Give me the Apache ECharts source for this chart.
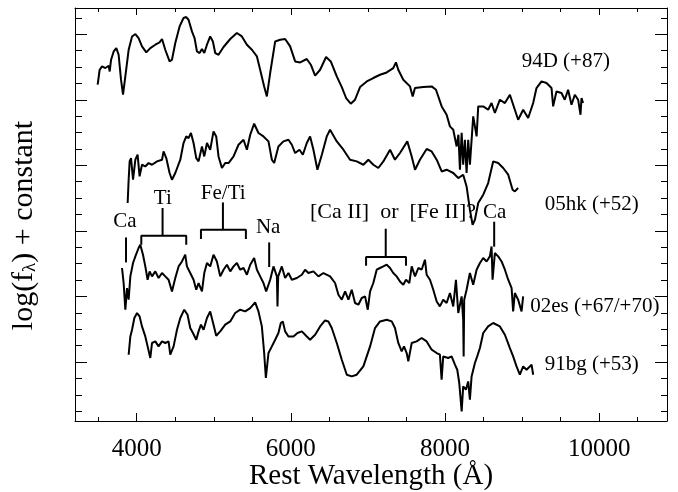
<!DOCTYPE html>
<html><head><meta charset="utf-8">
<script src="https://cdn.jsdelivr.net/npm/echarts@6/dist/echarts.min.js"></script>
<style>html,body{margin:0;padding:0;background:#fff}#c{width:678px;height:492px}</style>
</head><body><div id="c"></div>
<script>
// ---- data: [rest wavelength (Å), log(f) + constant] ----
const sn94D = [[3494,5.230],[3520,5.458],[3551,5.509],[3594,5.484],[3637,5.519],[3650,5.432],[3668,5.611],[3702,5.737],[3736,5.789],[3766,5.687],[3797,5.306],[3823,5.077],[3853,5.356],[3896,5.763],[3940,5.966],[3983,6.003],[4025,5.942],[4069,5.814],[4125,5.722],[4177,5.789],[4242,5.840],[4297,5.875],[4329,5.927],[4371,5.763],[4427,5.585],[4458,5.611],[4501,5.866],[4557,6.119],[4608,6.247],[4643,6.262],[4673,6.221],[4717,6.043],[4751,5.942],[4782,5.737],[4816,5.713],[4847,5.774],[4877,5.713],[4912,5.840],[4954,5.966],[4989,5.890],[5019,5.713],[5062,5.687],[5127,5.805],[5214,5.927],[5300,6.018],[5365,5.966],[5430,5.840],[5495,5.763],[5560,5.661],[5602,5.458],[5654,5.204],[5689,5.051],[5732,5.408],[5797,5.890],[5861,5.916],[5926,5.927],[5991,5.814],[6056,5.585],[6121,5.570],[6207,5.622],[6259,5.535],[6315,5.367],[6380,5.458],[6457,5.652],[6518,5.585],[6596,5.356],[6661,5.194],[6717,5.027],[6777,4.940],[6833,5.001],[6898,5.194],[6985,5.280],[7070,5.332],[7157,5.382],[7244,5.417],[7329,5.484],[7364,5.570],[7394,5.458],[7459,5.306],[7546,5.204],[7581,5.051],[7610,5.179],[7718,5.194],[7827,5.204],[7883,5.153],[7957,4.899],[8021,4.772],[8064,4.594],[8107,4.543],[8151,4.288],[8174,4.467],[8194,3.933],[8216,4.497],[8236,4.009],[8258,4.391],[8280,3.883],[8301,4.391],[8323,4.009],[8366,4.746],[8410,4.441],[8431,4.899],[8496,4.899],[8560,4.848],[8604,4.950],[8647,4.798],[8712,5.001],[8777,4.950],[8842,5.077],[8906,4.848],[8949,4.696],[9014,4.848],[9079,4.722],[9144,4.950],[9187,5.179],[9252,5.280],[9317,5.255],[9382,5.179],[9403,4.899],[9446,5.127],[9511,5.103],[9554,5.001],[9597,5.153],[9641,4.924],[9684,5.077],[9727,5.001],[9758,4.772],[9771,5.027],[9791,4.950]];

const sn05hk = [[3883,3.425],[3896,3.780],[3909,4.060],[3927,4.111],[3953,3.780],[3983,4.086],[4012,4.162],[4038,3.831],[4069,4.009],[4112,3.983],[4155,4.035],[4199,4.009],[4264,4.060],[4329,4.086],[4349,4.212],[4384,4.111],[4427,3.883],[4458,3.780],[4501,3.883],[4566,4.086],[4608,4.340],[4643,4.441],[4673,4.416],[4704,4.493],[4738,4.340],[4773,4.111],[4803,4.060],[4847,4.288],[4877,4.136],[4912,4.340],[4954,4.238],[4997,4.517],[5032,4.441],[5062,4.136],[5106,3.959],[5149,4.035],[5192,4.035],[5257,4.136],[5321,4.314],[5386,4.391],[5430,4.238],[5473,4.467],[5524,4.635],[5580,4.493],[5645,4.441],[5710,4.365],[5754,4.086],[5784,4.035],[5839,4.288],[5904,4.365],[5969,4.391],[6013,4.314],[6056,4.188],[6112,4.238],[6156,4.162],[6207,4.340],[6250,4.441],[6293,4.238],[6345,3.933],[6402,4.162],[6466,4.441],[6509,4.543],[6596,4.365],[6682,4.238],[6768,4.086],[6855,4.060],[6941,4.009],[7006,4.086],[7070,4.009],[7135,3.959],[7200,4.060],[7287,4.238],[7351,4.086],[7416,4.188],[7511,4.365],[7568,4.136],[7611,3.933],[7675,4.086],[7762,4.249],[7827,4.212],[7892,4.086],[7957,3.907],[8021,3.933],[8107,3.883],[8172,3.806],[8236,3.857],[8280,3.678],[8323,3.323],[8358,3.094],[8388,3.170],[8431,3.425],[8496,3.552],[8560,3.730],[8625,4.060],[8690,4.035],[8755,3.959],[8820,3.857],[8877,3.628],[8906,3.602],[8949,3.654]];

const sn02es = [[3810,2.434],[3831,2.205],[3853,1.798],[3875,2.128],[3896,1.950],[3918,2.306],[3953,2.510],[3983,2.611],[4025,2.739],[4047,2.789],[4082,2.637],[4112,2.458],[4142,2.255],[4168,2.382],[4199,2.306],[4242,2.382],[4284,2.281],[4329,2.357],[4371,2.306],[4414,2.255],[4458,2.077],[4501,2.281],[4544,2.458],[4588,2.534],[4630,2.637],[4652,2.458],[4695,2.357],[4738,2.255],[4773,2.103],[4803,2.205],[4847,2.077],[4877,2.357],[4912,2.510],[4954,2.458],[4997,2.637],[5041,2.534],[5084,2.306],[5127,2.408],[5171,2.484],[5214,2.382],[5257,2.458],[5300,2.510],[5343,2.408],[5386,2.434],[5430,2.331],[5473,2.484],[5524,2.586],[5560,2.408],[5602,2.306],[5645,2.205],[5680,2.077],[5710,2.179],[5732,2.255],[5775,2.458],[5819,2.306],[5827,1.848],[5836,2.306],[5883,2.458],[5926,2.281],[5969,2.357],[6013,2.255],[6078,2.281],[6143,2.331],[6185,2.408],[6228,2.357],[6293,2.382],[6358,2.306],[6423,2.357],[6509,2.306],[6574,2.205],[6617,2.026],[6661,1.950],[6704,2.077],[6747,1.950],[6790,2.103],[6833,1.900],[6876,1.874],[6920,1.976],[6963,2.001],[6998,1.798],[7028,2.077],[7070,2.205],[7114,2.408],[7157,2.434],[7200,2.458],[7244,2.484],[7287,2.434],[7329,2.357],[7373,2.306],[7416,2.229],[7459,2.179],[7494,2.255],[7537,2.205],[7568,2.458],[7611,2.306],[7654,2.434],[7697,2.408],[7740,2.560],[7762,2.331],[7805,2.255],[7848,2.103],[7892,1.924],[7934,1.848],[7977,1.950],[8021,1.900],[8064,2.052],[8107,1.848],[8142,2.255],[8172,1.747],[8216,2.001],[8236,1.645],[8242,1.085],[8249,1.950],[8280,2.103],[8323,2.357],[8366,2.179],[8410,2.408],[8453,2.510],[8496,2.586],[8540,2.534],[8582,2.611],[8604,2.763],[8617,2.255],[8647,2.662],[8690,2.611],[8734,2.534],[8777,2.408],[8820,2.255],[8864,2.128],[8884,1.772],[8906,2.052],[8949,1.950],[8993,1.772],[9014,2.001]];

const sn91bg = [[3896,1.111],[3918,1.390],[3940,1.492],[3970,1.671],[4005,1.747],[4038,1.696],[4069,1.543],[4112,1.390],[4142,1.238],[4177,1.061],[4199,1.290],[4242,1.314],[4284,1.238],[4329,1.314],[4371,1.290],[4414,1.314],[4436,1.111],[4479,1.238],[4523,1.492],[4566,1.671],[4617,1.798],[4660,1.721],[4695,1.518],[4730,1.442],[4773,1.340],[4803,1.467],[4834,1.569],[4868,1.492],[4912,1.671],[4954,1.772],[4997,1.569],[5032,1.401],[5084,1.467],[5149,1.569],[5214,1.619],[5278,1.747],[5343,1.798],[5408,1.772],[5473,1.823],[5537,1.909],[5580,1.772],[5624,1.543],[5654,1.137],[5676,0.756],[5710,1.137],[5754,1.238],[5797,1.340],[5839,1.442],[5870,1.595],[5896,1.619],[5926,1.467],[5969,1.390],[6034,1.390],[6086,1.442],[6143,1.467],[6207,1.390],[6250,1.340],[6315,1.416],[6380,1.543],[6444,1.634],[6487,1.619],[6531,1.518],[6596,1.290],[6661,1.035],[6726,0.806],[6790,0.780],[6855,0.806],[6941,0.933],[7028,1.238],[7092,1.518],[7157,1.619],[7244,1.645],[7309,1.619],[7351,1.518],[7394,1.290],[7438,1.162],[7468,1.238],[7503,1.137],[7524,1.009],[7568,1.290],[7632,1.314],[7697,1.366],[7762,1.314],[7827,1.188],[7892,1.137],[7934,1.111],[7956,0.730],[7977,1.085],[8042,1.061],[8086,1.085],[8129,0.959],[8159,0.882],[8185,0.680],[8216,0.246],[8236,0.628],[8271,0.577],[8301,0.704],[8323,0.425],[8345,0.780],[8388,0.985],[8418,1.085],[8453,1.213],[8496,1.442],[8560,1.543],[8625,1.595],[8712,1.543],[8777,1.416],[8842,1.213],[8884,1.085],[8928,0.933],[8971,0.806],[9014,0.933],[9058,0.882],[9123,0.959],[9144,0.806]];

// tick values
const xMajor = [4000, 6000, 8000, 10000];
const xMinor = [3500, 4500, 5000, 5500, 6500, 7000, 7500, 8500, 9000, 9500, 10500];
const yMajor = [1, 2, 3, 4, 5, 6];
const yMinor = [0.25, 0.5, 0.75, 1.25, 1.5, 1.75, 2.25, 2.5, 2.75, 3.25, 3.5, 3.75, 4.25, 4.5, 4.75, 5.25, 5.5, 5.75, 6.25];

// line identifications: brackets (data coords)
const brackets = [
  {x1: 3862, x2: 3862, xc: null, bar: 2.900, end: 2.519, top: null},
  {x1: 4060, x2: 4643, xc: 4336, bar: 2.926, end: 2.789, top: 3.349},
  {x1: 4834, x2: 5417, xc: 5119, bar: 3.018, end: 2.876, top: 3.434},
  {x1: 5719, x2: 5719, xc: null, bar: 2.824, end: 2.449, top: null},
  {x1: 6976, x2: 7494, xc: 7231, bar: 2.601, end: 2.469, top: 3.033},
  {x1: 8638, x2: 8638, xc: null, bar: 3.140, end: 2.759, top: null}
];
const annoText = ['Ca', 'Ti', 'Fe/Ti', 'Na', '[Ca II]\u2002or\u2002[Fe II]?', 'Ca', '94D (+87)', '05hk (+52)', '02es (+67/+70)', '91bg (+53)'];
const annoX = [3846, 4339, 5123, 5706, 7325, 8643, 9567, 9904, 9943, 9904];
const annoY = [3.140, 3.491, 3.567, 3.056, 3.285, 3.285, 5.585, 3.399, 1.851, 0.959];
const annoSize = [21, 21, 21, 21, 22, 21, 21, 21, 21, 21];

const FONT = 'Liberation Serif';
const XMIN = 3200, XMAX = 10880, YMIN = 0.1, YMAX = 6.4;

function xAx(pos, ticks, len, line, labels) {
  return {
    type: 'value', gridIndex: 0, position: pos, min: XMIN, max: XMAX,
    axisLine: {show: line, onZero: false, lineStyle: {color: '#000', width: 1}},
    axisTick: {show: true, inside: true, length: len, customValues: ticks, lineStyle: {color: '#000', width: 1}},
    axisLabel: labels ? {show: true, customValues: ticks, color: '#000', fontFamily: FONT, fontSize: 25, margin: 16,
                         formatter: v => String(v)} : {show: false},
    splitLine: {show: false}
  };
}
function yAx(pos, ticks, len, line) {
  return {
    type: 'value', gridIndex: 0, position: pos, min: YMIN, max: YMAX,
    axisLine: {show: line, onZero: false, lineStyle: {color: '#000', width: 1}},
    axisTick: {show: true, inside: true, length: len, customValues: ticks, lineStyle: {color: '#000', width: 1}},
    axisLabel: {show: false},
    splitLine: {show: false}
  };
}

const xAxes = [xAx('bottom', xMajor, 8, true, true), xAx('bottom', xMinor, 4, false, false),
               xAx('top', xMajor, 7, true, false), xAx('top', xMinor, 4, false, false)];
xAxes[0].name = 'Rest Wavelength (Å)';
xAxes[0].nameLocation = 'middle';
xAxes[0].nameGap = 41;
xAxes[0].nameMoveOverlap = false;
xAxes[0].nameTextStyle = {color: '#000', fontFamily: FONT, fontSize: 29};

const yAxes = [yAx('left', yMajor, 12, true), yAx('left', yMinor, 7, false),
               yAx('right', yMajor, 12, true), yAx('right', yMinor, 6, false)];
yAxes[0].name = 'log(f{sub|λ}) + constant';
yAxes[0].nameLocation = 'middle';
yAxes[0].nameRotate = 90;
yAxes[0].nameGap = 35;
yAxes[0].nameMoveOverlap = false;
yAxes[0].nameTextStyle = {color: '#000', fontFamily: FONT, fontSize: 30, padding: [0, 22, 0, 0],
  rich: {sub: {fontFamily: FONT, fontSize: 19, color: '#000', verticalAlign: 'bottom', padding: [12, 0, 0, 0]}}};

function lineSeries(data, w) {
  return {type: 'line', data: data, xAxisIndex: 0, yAxisIndex: 0, symbol: 'none', showSymbol: false,
          silent: true, animation: false, lineStyle: {color: '#000', width: w}};
}
const series = [lineSeries(sn94D, 2), lineSeries(sn05hk, 2), lineSeries(sn02es, 2), lineSeries(sn91bg, 2)];
brackets.forEach(b => {
  if (b.xc === null) {
    series.push(lineSeries([[b.x1, b.bar], [b.x1, b.end]], 2));
  } else {
    series.push(lineSeries([[b.x1, b.end], [b.x1, b.bar], [b.x2, b.bar], [b.x2, b.end]], 2));
    series.push(lineSeries([[b.xc, b.bar], [b.xc, b.top]], 2));
  }
});

const chart = echarts.init(document.getElementById('c'), null, {renderer: 'canvas'});
chart.setOption({
  animation: false,
  backgroundColor: '#fff',
  grid: {left: 75, right: 11, top: 8, bottom: 71, containLabel: false, outerBoundsMode: 'none'},
  xAxis: xAxes,
  yAxis: yAxes,
  series: series
});
const graphics = annoText.map((t, i) => {
  const p = chart.convertToPixel({xAxisIndex: 0, yAxisIndex: 0}, [annoX[i], annoY[i]]);
  return {type: 'text', x: p[0], y: p[1], silent: true,
          style: {text: t, fill: '#000', fontFamily: FONT, fontSize: annoSize[i], align: 'center', verticalAlign: 'middle'}};
});
chart.setOption({graphic: graphics});
</script>
</body></html>
